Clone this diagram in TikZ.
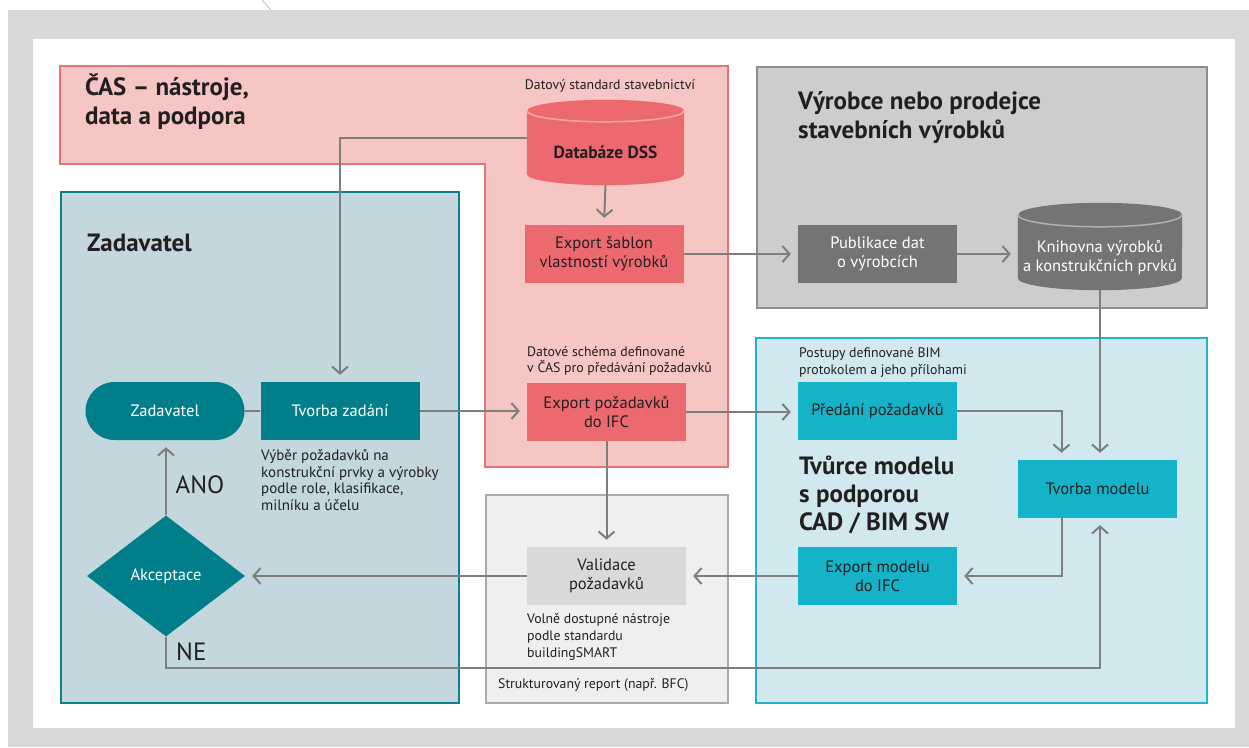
\documentclass[tikz,border=0pt]{standalone}
\usepackage{fontspec}
\setmainfont{PT Sans}
\usetikzlibrary{shapes.geometric,arrows.meta}
\definecolor{bggray}{HTML}{D9D9D9}
\definecolor{connc}{HTML}{7E7E7E}
\definecolor{txt}{HTML}{231F20}
\definecolor{redreg}{HTML}{F6C6C5}
\definecolor{redline}{HTML}{E6737A}
\definecolor{redbox}{HTML}{EC6A6F}
\definecolor{redhl}{HTML}{F6A9AC}
\definecolor{grayreg}{HTML}{CDCDCD}
\definecolor{grayline}{HTML}{8E8E8E}
\definecolor{graybox}{HTML}{747474}
\definecolor{grayhl}{HTML}{B0B0B0}
\definecolor{tealreg}{HTML}{C4D6DE}
\definecolor{tealline}{HTML}{0B7F8B}
\definecolor{tealbox}{HTML}{007F8B}
\definecolor{cyanreg}{HTML}{D1E8EF}
\definecolor{cyanline}{HTML}{1FB4CB}
\definecolor{cyanbox}{HTML}{16B3C8}
\definecolor{lightreg}{HTML}{EFEFEF}
\definecolor{lightline}{HTML}{ABABAB}
\definecolor{lightbox}{HTML}{D9D9D9}
\pgfdeclarelayer{regions}
\pgfdeclarelayer{shapes}
\pgfsetlayers{regions,shapes,main}
\begin{document}
\begin{tikzpicture}[x=1pt,y=-1pt,
  region/.style={line width=2.5pt},
  procbox/.style={rectangle, minimum width=159pt, minimum height=58pt, inner sep=0pt, align=center, font=\fontsize{16.5}{19}\selectfont, text=txt},
  redb/.style={procbox, fill=redbox},
  tealb/.style={procbox, fill=tealbox, text=white},
  cyanb/.style={procbox, fill=cyanbox},
  grayb/.style={procbox, fill=graybox, text=white},
  lightb/.style={procbox, fill=lightbox},
  cylnode/.style={rectangle, inner sep=0pt},
  cyllbl/.style={font=\fontsize{16.5}{19}\selectfont, align=center, inner sep=0pt},
  ttl/.style={font=\fontsize{25}{28.5}\selectfont\bfseries, text=txt, align=left, inner sep=0pt},
  nt/.style={font=\fontsize{13.8}{16.7}\selectfont, text=txt, align=left, inner sep=0pt},
  yesno/.style={font=\fontsize{25}{28}\selectfont, text=txt, inner sep=0pt},
  conn/.style={draw=connc, line width=2pt},
  arr/.style={conn, -{Straight Barb[length=7pt,width=16pt]}, shorten >=7pt},
]
\useasboundingbox (0,0) rectangle (1249,747);

% ---------- backgrounds and regions ----------
\begin{pgfonlayer}{regions}
\fill[bggray] (0,0) rectangle (1249,747);
\fill[white] (0,0) rectangle (8,747);
\fill[white] (0,0) rectangle (1249,10);
\draw[bggray!80!black, line width=0.6pt] (262,0) -- (271,10);
\fill[white] (33,39) rectangle (1235,728);

\filldraw[fill=redreg, draw=redline, region]
  (60,66) -- (728,66) -- (728,467) -- (485,467) -- (485,164) -- (60,164) -- cycle;
\filldraw[fill=grayreg, draw=grayline, line width=2pt] (757,67) rectangle (1207,308);
\filldraw[fill=tealreg, draw=tealline, region] (61,192) rectangle (459,703);
\filldraw[fill=lightreg, draw=lightline, line width=2pt] (486,495) rectangle (728,703);
\filldraw[fill=cyanreg, draw=cyanline, region] (756,338) rectangle (1207,703);
\end{pgfonlayer}

% ---------- region titles ----------
\node[ttl, anchor=west] (tcas) at (85,101.5) {ČAS – nástroje,\\data a podpora};
\node[ttl, anchor=west] (tvyr) at (798,117.5) {Výrobce nebo prodejce\\stavebních výrobků};
\node[ttl, anchor=west] (tzad) at (87,243) {Zadavatel};
\node[ttl, anchor=west, font=\fontsize{25}{28}\selectfont\bfseries] (ttvu) at (799,495) {Tvůrce modelu\\s podporou\\CAD / BIM SW};

% ---------- nodes ----------
\node[cylnode, minimum width=157pt, minimum height=85pt,
  label={[cyllbl, font=\fontsize{17.5}{19}\selectfont\bfseries, text=txt, yshift=-10pt]center:Databáze DSS}] (dss) at (605.5,142.5) {};
\node[redb] (esab) at (604,254) {Export šablon\\vlastností výrobků};
\node[grayb] (pub) at (877.5,254) {Publikace dat\\o výrobcích};
\node[cylnode, minimum width=164pt, minimum height=87pt,
  label={[cyllbl, text=white, yshift=-11pt]center:Knihovna výrobků\\a konstrukčních prvků}] (knih) at (1100,246.5) {};
\node[tealb, rounded corners=29pt] (zad) at (165,411) {Zadavatel};
\node[tealb] (tz) at (340,411) {Tvorba zadání};
\node[redb] (ep) at (606.5,412) {Export požadavků\\do IFC};
\node[cyanb] (pp) at (877.5,411) {Předání požadavků};
\node[cyanb] (tm) at (1097.5,489) {Tvorba modelu};
\node[cyanb] (em) at (877.5,576) {Export modelu\\do IFC};
\node[lightb] (val) at (606.5,576) {Validace\\požadavků};
\node[diamond, fill=tealbox, text=white, minimum width=158pt, minimum height=121pt, inner sep=0pt,
  font=\fontsize{16.5}{19}\selectfont] (ak) at (166,576) {Akceptace};

% ---------- cylinders drawn under their nodes ----------
\begin{pgfonlayer}{shapes}
\fill[redbox] ([yshift=-11pt]dss.north west) -- ([yshift=11pt]dss.south west)
  arc[start angle=180, end angle=360, x radius=78.5pt, y radius=11pt]
  -- ([yshift=-11pt]dss.north east)
  arc[start angle=0, end angle=180, x radius=78.5pt, y radius=11pt] -- cycle;
\draw[redhl, line width=1.5pt] ([yshift=-11pt]dss.north west)
  arc[start angle=180, end angle=360, x radius=78.5pt, y radius=11pt];
\fill[graybox] ([yshift=-12pt]knih.north west) -- ([yshift=12pt]knih.south west)
  arc[start angle=180, end angle=360, x radius=82pt, y radius=12pt]
  -- ([yshift=-12pt]knih.north east)
  arc[start angle=0, end angle=180, x radius=82pt, y radius=12pt] -- cycle;
\draw[grayhl, line width=1.5pt] ([yshift=-12pt]knih.north west)
  arc[start angle=180, end angle=360, x radius=82pt, y radius=12pt];
\end{pgfonlayer}

% ---------- notes ----------
\node[nt, anchor=center] (ndss) at (610,86) {Datový standard stavebnictví};
\node[nt, anchor=west] (nep) at (527,361) {Datové schéma definované\\v ČAS pro předávání požadavků};
\node[nt, anchor=west] (npp) at (799,362.5) {Postupy definované BIM\\protokolem a jeho přílohami};
\node[nt, anchor=west, font=\fontsize{15}{16.7}\selectfont] (ntz) at (261,480) {Výběr požadavků na\\konstrukční prvky a výrobky\\podle role, klasifikace,\\milníku a účelu};
\node[nt, anchor=west] (nval) at (527,637) {Volně dostupné nástroje\\podle standardu\\buildingSMART};
\node[nt, anchor=west] (nrep) at (498,685) {Strukturovaný report (např. BFC)};
\node[yesno] (ano) at (200,485) {ANO};
\node[yesno, anchor=west] (ne) at (176,652) {NE};

% ---------- connectors ----------
\draw[arr] ([yshift=5pt]dss.west) -| (tz.north);
\draw[arr] (dss.south) -- (esab.north);
\draw[arr] (esab.east) -- (pub.west);
\draw[arr] (pub.east) -- (knih.west |- pub.east);
\draw[arr] (knih.south) -- (knih.south |- tm.north);
\draw[conn] (zad.east) -- (tz.west);
\draw[arr] (tz.east) -- (ep.west |- tz.east);
\draw[arr] (ep.east) -- (pp.west |- ep.east);
\draw[arr] (pp.east) -| ([xshift=-36pt]tm.north);
\draw[arr] ([xshift=-36pt]tm.south) |- (em.east);
\draw[arr] (em.west) -- (val.east);
\draw[arr] (ep.south) -- (val.north);
\draw[arr] (val.west) -- (ak.east);
\draw[arr] (ak.north) -- (ak.north |- zad.south);
\coordinate (nebend) at (166,668);
\draw[arr] (ak.south) -- (nebend) -| ([xshift=2.5pt]tm.south);
\end{tikzpicture}
\end{document}
